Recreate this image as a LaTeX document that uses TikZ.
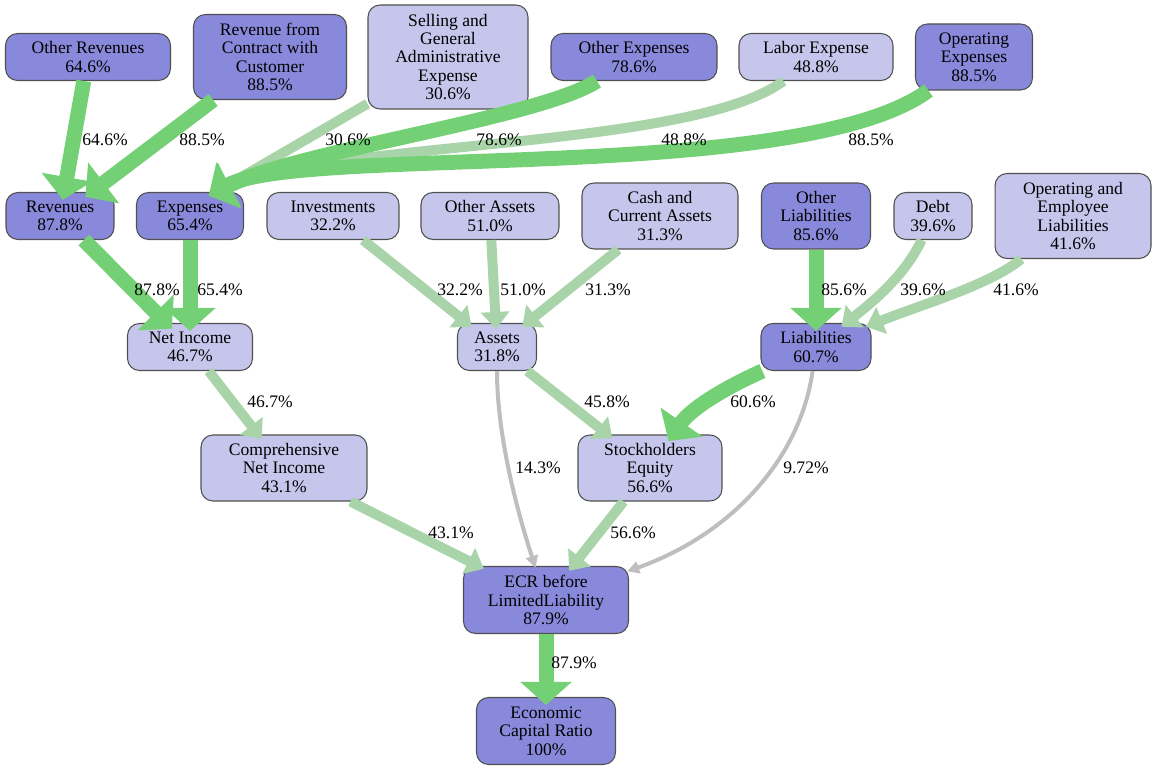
\documentclass[tikz,border=0pt]{standalone}
\usepackage{fontspec}
\setmainfont{Liberation Serif}
\usepackage{tikz}
\usetikzlibrary{arrows.meta}
\definecolor{lila}{RGB}{137, 137, 220}
\definecolor{lavanda}{RGB}{198, 198, 236}
\definecolor{borde}{RGB}{80, 80, 80}
\definecolor{verde}{RGB}{116, 208, 116}
\definecolor{menta}{RGB}{169, 212, 169}
\definecolor{gris}{RGB}{190, 190, 190}
\tikzset{
    hi/.style={draw=borde, fill=lila, rounded corners=0.24cm, align=center, inner sep=1pt, line width=0.6pt, minimum height=0.94cm, font=\fontsize{10}{10.5}\selectfont},
    lo/.style={hi, fill=lavanda},
    flowHi/.style={-{Triangle[length=0.46cm, width=1cm]}, verde, line width=0.3cm, shorten >=-0.16cm},
    flowLo/.style={-{Triangle[length=0.34cm, width=0.56cm]}, menta, line width=0.2cm, shorten >=-0.12cm},
    flowGray/.style={-{Triangle[length=0.24cm, width=0.24cm]}, gris, line width=0.08cm, shorten >=-0.04cm},
    pct/.style={inner sep=0pt, font=\fontsize{10}{10.5}\selectfont},
}

\begin{document}
\begin{tikzpicture}[
        x=0.02cm,
        y=-0.02cm,
        ]
        \useasboundingbox (0,0) rectangle (1152,766);

        \node[hi, minimum width=3.3cm] (orev) at (88,57) {Other Revenues\\64.6\%};
        \node[hi, minimum width=3.06cm, minimum height=1.7cm] (rcc) at (270,57) {Revenue from\\Contract with\\Customer\\88.5\%};
        \node[lo, minimum width=3.2cm, minimum height=2.08cm] (sga) at (448,57) {Selling and\\General\\Administrative\\Expense\\30.6\%};
        \node[hi, minimum width=3.32cm] (oexp) at (634,57) {Other Expenses\\78.6\%};
        \node[lo, minimum width=3.08cm] (lab) at (816,57) {Labor Expense\\48.8\%};
        \node[hi, minimum width=2.34cm, minimum height=1.32cm] (opex) at (974,57) {Operating\\Expenses\\88.5\%};

        \node[hi, minimum width=2.16cm] (rev) at (60,216) {Revenues\\87.8\%};
        \node[hi, minimum width=2.14cm] (exp) at (190,216) {Expenses\\65.4\%};
        \node[lo, minimum width=2.64cm] (inv) at (333,216) {Investments\\32.2\%};
        \node[lo, minimum width=2.76cm] (oas) at (490,216) {Other Assets\\51.0\%};
        \node[lo, minimum width=3.12cm, minimum height=1.32cm] (cash) at (660,216) {Cash and\\Current Assets\\31.3\%};
        \node[hi, minimum width=2.18cm, minimum height=1.32cm] (olia) at (816,216) {Other\\Liabilities\\85.6\%};
        \node[lo, minimum width=1.56cm] (debt) at (933,216) {Debt\\39.6\%};
        \node[lo, minimum width=3.12cm, minimum height=1.7cm] (oel) at (1073,216) {Operating and\\Employee\\Liabilities\\41.6\%};

        \node[lo, minimum width=2.5cm] (ni) at (190,347) {Net Income\\46.7\%};
        \node[lo, minimum width=1.58cm] (ast) at (497,347) {Assets\\31.8\%};
        \node[hi, minimum width=2.2cm] (lia) at (816,347) {Liabilities\\60.7\%};

        \node[lo, minimum width=3.32cm, minimum height=1.32cm] (cni) at (284,468) {Comprehensive\\Net Income\\43.1\%};
        \node[lo, minimum width=2.88cm, minimum height=1.32cm] (se) at (650,468) {Stockholders\\Equity\\56.6\%};

        \node[hi, minimum width=3.3cm, minimum height=1.34cm] (ecrb) at (546,600) {ECR before\\LimitedLiability\\87.9\%};
        \node[hi, minimum width=2.78cm, minimum height=1.34cm] (ecr) at (546,731) {Economic\\Capital Ratio\\100\%};

        \draw[flowLo] (sga) -- (exp.43);
        \draw[flowLo] (lab) .. controls (690,150) and (330,140) .. (exp.43);
        \draw[flowLo] (inv) -- (ast);
        \draw[flowLo] (oas) -- (ast);
        \draw[flowLo] (cash) -- (ast);
        \draw[flowLo] (debt) .. controls (905,275) and (875,300) .. (lia);
        \draw[flowLo] (oel) .. controls (990,285) and (920,305) .. (lia);
        \draw[flowLo] (ni) -- (cni);
        \draw[flowLo] (ast) -- (se);
        \draw[flowLo] (cni) -- (ecrb);
        \draw[flowLo] (se) -- (ecrb);

        \draw[flowHi] (orev) -- (rev);
        \draw[flowHi] (rcc) -- (rev);
        \draw[flowHi] (oexp) .. controls (540,118) and (300,150) .. (exp.43);
        \draw[flowHi] (opex) .. controls (800,185) and (300,145) .. (exp.43);
        \draw[flowHi] (rev) -- (ni);
        \draw[flowHi] (exp) -- (ni);
        \draw[flowHi] (olia) -- (lia);
        \draw[flowHi] (lia) .. controls (720,390) and (690,410) .. (se);
        \draw[flowHi] (ecrb) -- (ecr);

        \draw[flowGray] (ast) .. controls (497,440) and (520,520) .. (ecrb);
        \draw[flowGray] (lia) .. controls (800,460) and (730,535) .. (ecrb);

        \node[pct] (txt1) at (105,140) {64.6\%};
        \node[pct] (txt2) at (202,140) {88.5\%};
        \node[pct] (txt3) at (348,140) {30.6\%};
        \node[pct] (txt4) at (499,140) {78.6\%};
        \node[pct] (txt5) at (684,140) {48.8\%};
        \node[pct] (txt6) at (871,140) {88.5\%};
        \node[pct] (txt7) at (157,290) {87.8\%};
        \node[pct] (txt8) at (220,290) {65.4\%};
        \node[pct] (txt9) at (460,290) {32.2\%};
        \node[pct] (txt10) at (523,290) {51.0\%};
        \node[pct] (txt11) at (608,290) {31.3\%};
        \node[pct] (txt12) at (844,290) {85.6\%};
        \node[pct] (txt13) at (923,290) {39.6\%};
        \node[pct] (txt14) at (1016,290) {41.6\%};
        \node[pct] (txt15) at (270,402) {46.7\%};
        \node[pct] (txt16) at (607,402) {45.8\%};
        \node[pct] (txt17) at (753,402) {60.6\%};
        \node[pct] (txt18) at (538,468) {14.3\%};
        \node[pct] (txt19) at (806,468) {9.72\%};
        \node[pct] (txt20) at (451,533) {43.1\%};
        \node[pct] (txt21) at (633,533) {56.6\%};
        \node[pct] (txt22) at (574,663) {87.9\%};
\end{tikzpicture}
\end{document}
